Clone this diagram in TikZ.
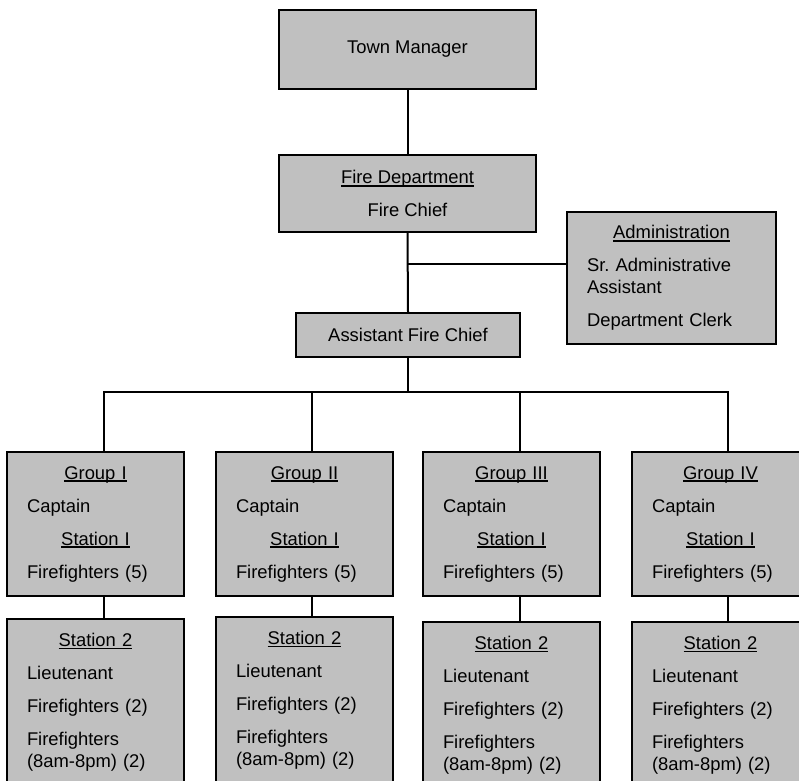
\documentclass[tikz,border=0pt]{standalone}
\usepackage{fontspec}
\setmainfont{Liberation Sans}
\usepackage{xcolor}
\frenchspacing
\definecolor{boxgray}{HTML}{C0C0C0}
\newsavebox{\hdbox}
\newcommand{\hdline}[1]{\sbox\hdbox{#1}\leavevmode\rlap{\rule[-2.2pt]{\wd\hdbox}{1.1pt}}\usebox\hdbox}
\newcommand{\head}[1]{{\centering\hdline{#1}\par}}
\newcommand{\orgfont}{\fontsize{13.8pt}{16.5pt}\selectfont}
\tikzset{
  office/.style={draw, fill=boxgray, line width=1.5pt, font=\orgfont,
                 align=center, inner sep=0pt},
  crew/.style={draw, fill=boxgray, line width=1.5pt, font=\orgfont,
               text width=#1, inner xsep=15pt, inner ysep=0pt,
               execute at begin node={\raggedright\setlength{\parskip}{8.25pt}}},
  link/.style={line width=1.5pt}
}

\begin{document}
\begin{tikzpicture}[x=0.75pt,y=-0.75pt]
  \path[use as bounding box, fill=white] (0,0) rectangle (799,781);
  \clip (0,0) rectangle (799,781);

  % top of the chart
  \node[office, minimum width=192.75pt, minimum height=59.25pt] (tm) at (407.5,49.5) {Town Manager};
  \node[office, minimum width=192.75pt, minimum height=57.75pt] (fd) at (407.5,193.5)
    {\hdline{Fire Department}\\[8.25pt]Fire Chief};
  \node[crew=126.75pt, minimum height=99pt] (adm) at (671.5,278)
    {\head{Administration}Sr. Administrative\\Assistant\par Department Clerk};
  \node[office, minimum width=168pt, minimum height=33pt] (afc) at (408,335) {Assistant Fire Chief};

  % groups and their second stations
  \foreach \i/\x/\r/\sy in {1/95.5/I/702, 2/304.5/II/700, 3/511.5/III/705, 4/720.5/IV/705} {
    \node[crew=102.75pt, minimum height=108pt] (g\i) at (\x,524)
      {\head{Group \r}Captain\par\head{Station I}Firefighters (5)};
    \node[crew=102.75pt, minimum height=124.5pt] (s\i) at (\x,\sy)
      {\head{Station 2}Lieutenant\par Firefighters (2)\par Firefighters\\(8am-8pm) (2)};
  }

  \draw[link] (tm.south) -- (fd.north);
  \draw[link] (fd.south) -- (afc.north);
  \coordinate (tap) at (408,264);
  \draw[link] (tap) -- (tap -| adm.west);

  \foreach \i/\x in {1/104, 2/312, 3/520, 4/728}
    \coordinate (drop\i) at (\x,392);
  \draw[link] (afc.south) -- (afc.south |- drop1);
  \draw[link] (drop1 |- g1.north) -- (drop1) -- (drop4) -- (drop4 |- g4.north);
  \draw[link] (drop2) -- (drop2 |- g2.north);
  \draw[link] (drop3) -- (drop3 |- g3.north);
  \foreach \i in {1,...,4}
    \draw[link] (drop\i |- g\i.south) -- (drop\i |- s\i.north);
\end{tikzpicture}
\end{document}
